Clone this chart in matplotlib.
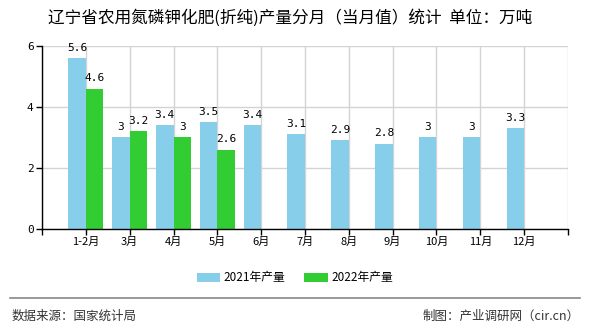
import numpy as np
import matplotlib.pyplot as plt

plt.rcParams['font.family'] = ['Noto Sans CJK SC', 'DejaVu Sans']

months = ['1-2月', '3月', '4月', '5月', '6月', '7月', '8月', '9月', '10月', '11月', '12月']
y2021 = [5.6, 3, 3.4, 3.5, 3.4, 3.1, 2.9, 2.8, 3, 3, 3.3]
y2022 = [4.6, 3.2, 3, 2.6]
labels2021 = ['5.6', '3', '3.4', '3.5', '3.4', '3.1', '2.9', '2.8', '3', '3', '3.3']
labels2022 = ['4.6', '3.2', '3', '2.6']

fig = plt.figure(figsize=(5.9, 3.3), dpi=100)
ax = fig.add_axes([0.0712, 0.306, 0.8915, 0.555])

x = np.arange(len(months))
w = 0.4
b1 = ax.bar(x[:len(y2021)] - w/2, y2021, w, color='#87ceeb', label='2021年产量', zorder=2)
b2 = ax.bar(x[:len(y2022)] + w/2, y2022, w, color='#32cd32', label='2022年产量', zorder=2)

for bar, t in zip(b1, labels2021):
    ax.annotate(t, (bar.get_x() + bar.get_width()/2, bar.get_height()), xytext=(0, 4),
                textcoords='offset points', ha='center', va='bottom', fontsize=8,
                family='DejaVu Sans Mono')
for bar, t in zip(b2, labels2022):
    ax.annotate(t, (bar.get_x() + bar.get_width()/2, bar.get_height()), xytext=(0, 4),
                textcoords='offset points', ha='center', va='bottom', fontsize=8,
                family='DejaVu Sans Mono')

ax.set_xlim(-1, len(months))
ax.set_ylim(0, 6)
ax.set_xticks(np.arange(-1, len(months) + 1))
ax.set_xticklabels([''] + months + [''], fontsize=8)
ax.set_yticks([0, 2, 4, 6])
ax.set_yticklabels(['0', '2', '4', '6'], fontsize=8, family='DejaVu Sans Mono')
ax.grid(True, color='#d3d3d3', linewidth=1, zorder=0)
for s in ['top', 'right']:
    ax.spines[s].set_visible(False)
ax.spines['left'].set_linewidth(1)
ax.spines['bottom'].set_linewidth(1)
ax.tick_params(axis='both', length=4, width=1, color='black', pad=2)

fig.text(0.492, 0.945, '辽宁省农用氮磷钾化肥(折纯)产量分月（当月值）统计  单位：万吨',
         ha='center', va='center', fontsize=12)

fig.legend(handles=[b1, b2], loc='center', bbox_to_anchor=(0.5, 0.158), ncol=2,
           frameon=False, fontsize=8.5, handlelength=2.0, handleheight=0.8,
           columnspacing=1.6, handletextpad=0.3)

fig.add_artist(plt.Line2D([0.017, 0.983], [0.097, 0.097], color='#888888', linewidth=1.2))
fig.text(0.019, 0.042, '数据来源：国家统计局', ha='left', va='center', fontsize=9, color='#333333')
fig.text(0.983, 0.042, '制图：产业调研网（cir.cn）', ha='right', va='center', fontsize=9, color='#333333')

fig.savefig('out.png', dpi=100)
